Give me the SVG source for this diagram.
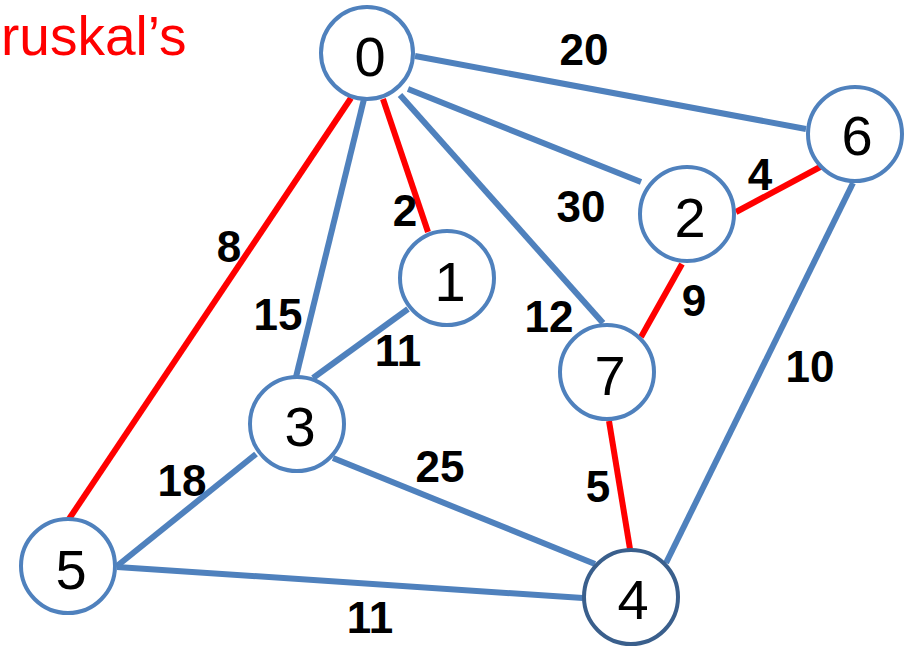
<svg xmlns="http://www.w3.org/2000/svg" width="914" height="656" viewBox="0 0 914 656">
<style>
.e{stroke-width:6;fill:none;stroke-linecap:butt}
.b{stroke:#4f81bd}
.r{stroke:#ff0000}
.n{fill:#ffffff;stroke:#4f81bd;stroke-width:4}
.nt{font-family:"Liberation Sans",Arial,sans-serif;font-size:56px;fill:#000;text-anchor:middle}
.w{font-family:"Liberation Sans",Arial,sans-serif;font-size:44px;font-weight:bold;fill:#000;text-anchor:middle}
.t{font-family:"Liberation Sans",Arial,sans-serif;font-size:55px;fill:#ff0000}
</style>
<rect width="914" height="656" fill="#ffffff"/>
<text class="t" x="1" y="55">ruskal’s</text>
<g id="edges">
<line class="e b" x1="415" y1="56" x2="806" y2="129"/>
<line class="e b" x1="408" y1="89" x2="641" y2="182"/>
<line class="e b" x1="400" y1="95" x2="603" y2="323"/>
<line class="e r" x1="383" y1="99" x2="428" y2="232"/>
<line class="e b" x1="364" y1="99" x2="296" y2="377"/>
<line class="e r" x1="351" y1="98" x2="69" y2="519"/>
<line class="e b" x1="408" y1="309" x2="313" y2="378"/>
<line class="e r" x1="736" y1="212" x2="822" y2="166"/>
<line class="e r" x1="682" y1="264" x2="641" y2="337"/>
<line class="e b" x1="853" y1="183" x2="666" y2="563"/>
<line class="e r" x1="609" y1="421" x2="630" y2="549"/>
<line class="e b" x1="333" y1="458" x2="595" y2="564"/>
<line class="e b" x1="256" y1="454" x2="117" y2="566"/>
<line class="e b" x1="117" y1="567" x2="583" y2="598"/>
</g>
<g id="weights">
<text class="w" x="584" y="65">20</text>
<text class="w" x="760" y="190">4</text>
<text class="w" x="581" y="222">30</text>
<text class="w" x="405" y="226">2</text>
<text class="w" x="229" y="262">8</text>
<text class="w" x="278" y="330">15</text>
<text class="w" x="398" y="366">11</text>
<text class="w" x="549" y="332">12</text>
<text class="w" x="694" y="316">9</text>
<text class="w" x="810" y="382">10</text>
<text class="w" x="440" y="482">25</text>
<text class="w" x="182" y="496">18</text>
<text class="w" x="598" y="502">5</text>
<text class="w" x="370" y="633">11</text>
</g>
<g id="node0"><circle class="n" cx="367" cy="53" r="46"/><text class="nt" x="370" y="76">0</text></g>
<g id="node6"><circle class="n" cx="855" cy="134" r="47"/><text class="nt" x="857" y="155">6</text></g>
<g id="node2"><circle class="n" cx="687" cy="214" r="47"/><text class="nt" x="690" y="237">2</text></g>
<g id="node1"><circle class="n" cx="447" cy="278" r="47"/><text class="nt" x="450" y="301">1</text></g>
<g id="node7"><circle class="n" cx="607" cy="372" r="47"/><text class="nt" x="610" y="395">7</text></g>
<g id="node3"><circle class="n" cx="297" cy="424" r="47"/><text class="nt" x="300" y="446">3</text></g>
<g id="node5"><circle class="n" cx="68" cy="566" r="47"/><text class="nt" x="71" y="589">5</text></g>
<g id="node4"><circle class="n" cx="631" cy="597" r="47" style="stroke:#3a5f8c"/><text class="nt" x="633" y="619">4</text></g>
</svg>
